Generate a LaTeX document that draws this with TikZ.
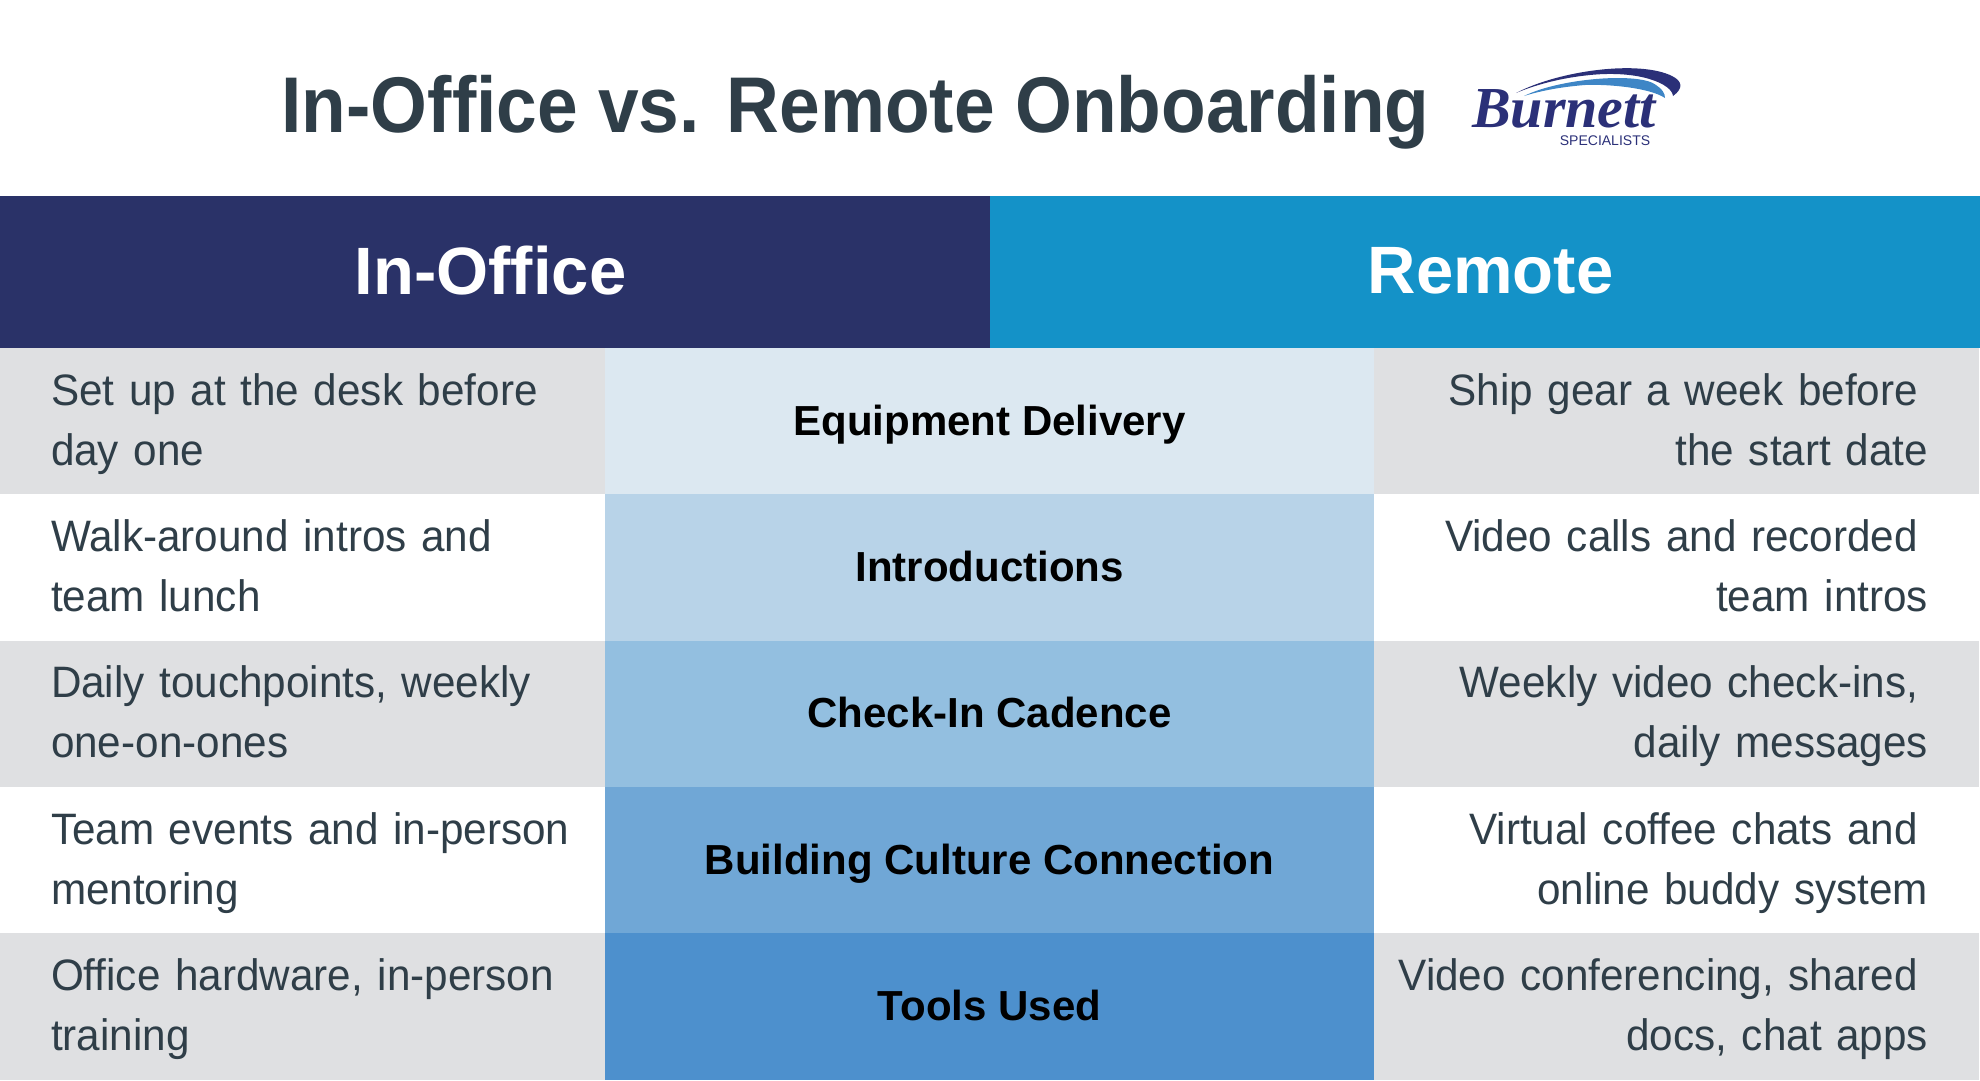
\documentclass[tikz,border=0pt]{standalone}
\usepackage{fontspec}
\setmainfont[FakeStretch=0.96]{Liberation Sans}
\newfontfamily\headfont{Liberation Sans}
\newfontfamily\titlefont[FakeStretch=0.925]{Liberation Sans}
\newfontfamily\logofont{Liberation Serif}
\usetikzlibrary{positioning,shapes}
\definecolor{slatetext}{HTML}{2F3E48}
\definecolor{navyhead}{HTML}{2A3268}
\definecolor{bluehead}{HTML}{1492C8}
\definecolor{greyrow}{HTML}{DFE0E2}
\definecolor{logonavy}{HTML}{2B3078}
\definecolor{logoblue}{HTML}{3E86C6}
\tikzstyle{title} = [text=slatetext, font=\titlefont\bfseries\fontsize{79}{90}\selectfont]
\tikzstyle{head} = [rectangle, minimum width=990pt, minimum height=152.5pt, inner sep=0pt, text=white, font=\headfont\bfseries\fontsize{67}{80}\selectfont]
\tikzstyle{cell} = [rectangle, minimum height=146.3pt, text width=565pt, inner xsep=20pt, inner ysep=0pt, text height=38pt, text depth=70pt, text=slatetext, font=\fontsize{44}{60}\selectfont]
\tikzstyle{left_cell} = [cell, align=left, execute at begin node={\leftskip=31pt\relax}]
\tikzstyle{right_cell} = [cell, align=right, execute at begin node={\rightskip=31pt\relax}]
\tikzstyle{topic} = [rectangle, minimum width=769pt, minimum height=146.3pt, inner sep=0pt, text height=33pt, text depth=5pt, text=black, font=\headfont\bfseries\fontsize{42}{50}\selectfont]
\def\ttx{540.7}
\def\tty{10pt}

\begin{document}
\begin{tikzpicture}[x=1pt, y=-1pt, node distance=146.3pt]
\useasboundingbox (0,0) rectangle (1980,1080);

\node (title) [title] at (855.5,112) {In-Office vs. Remote Onboarding};

% logo
\fill [logonavy] (1516,93) .. controls (1560,70) and (1640,60) .. (1672,76) .. controls (1682,81) and (1684,88) .. (1673,96) .. controls (1672,84) and (1640,70) .. (1590,75) .. controls (1560,78) and (1535,85) .. (1516,93);
\fill [logoblue] (1524,96) .. controls (1560,78) and (1640,72) .. (1656,85) .. controls (1662,89) and (1665,93) .. (1665,98) .. controls (1650,88) and (1610,84) .. (1585,85) .. controls (1560,87) and (1540,91) .. (1524,96);
\node (burnett) [text=logonavy, inner sep=0pt, font=\logofont\bfseries\itshape\fontsize{58}{70}\selectfont] at (1564,109) {Burnett};
\node (specialists) [text=logonavy, inner sep=0pt, font=\headfont\fontsize{14}{16}\selectfont, below of=burnett, yshift=115pt, xshift=41pt] {SPECIALISTS};

% header
\node (in_office) [head, fill=navyhead] at (495,272.2) {\raisebox{3pt}{In-Office}\hspace*{9pt}};
\node (remote) [head, fill=bluehead, right of=in_office, xshift=843.7pt] {\hspace*{11pt}\raisebox{3pt}{Remote}};

% left column
\node (left1) [left_cell, fill=greyrow] at (302.5,421.2) {Set up at the desk before\\day one};
\node (left2) [left_cell, below of=left1] {Walk-around intros and\\team lunch};
\node (left3) [left_cell, fill=greyrow, below of=left2] {Daily touchpoints, weekly\\one-on-ones};
\node (left4) [left_cell, below of=left3] {Team events and in-person\\mentoring};
\node (left5) [left_cell, fill=greyrow, below of=left4] {Office hardware, in-person\\training};

% topics
\node (topic1) [topic, fill={rgb,255:red,220;green,232;blue,241}, right of=left1, xshift=\ttx] {Equipment Delivery};
\node (topic2) [topic, fill={rgb,255:red,184;green,211;blue,232}, below of=topic1] {Introductions};
\node (topic3) [topic, fill={rgb,255:red,147;green,191;blue,224}, below of=topic2] {Check-In Cadence};
\node (topic4) [topic, fill={rgb,255:red,112;green,167;blue,214}, below of=topic3] {Building Culture Connection};
\node (topic5) [topic, fill={rgb,255:red,77;green,144;blue,205}, below of=topic4] {Tools Used};

% right column
\node (right1) [right_cell, fill=greyrow, right of=topic1, xshift=\ttx] {Ship gear a week before\hspace*{\tty}\mbox{}\\the start date};
\node (right2) [right_cell, below of=right1] {Video calls and recorded\hspace*{\tty}\mbox{}\\team intros};
\node (right3) [right_cell, fill=greyrow, below of=right2] {Weekly video check-ins,\hspace*{\tty}\mbox{}\\daily messages};
\node (right4) [right_cell, below of=right3] {Virtual coffee chats and\hspace*{\tty}\mbox{}\\online buddy system};
\node (right5) [right_cell, fill=greyrow, below of=right4] {Video conferencing, shared\hspace*{\tty}\mbox{}\\docs, chat apps};
\end{tikzpicture}
\end{document}
